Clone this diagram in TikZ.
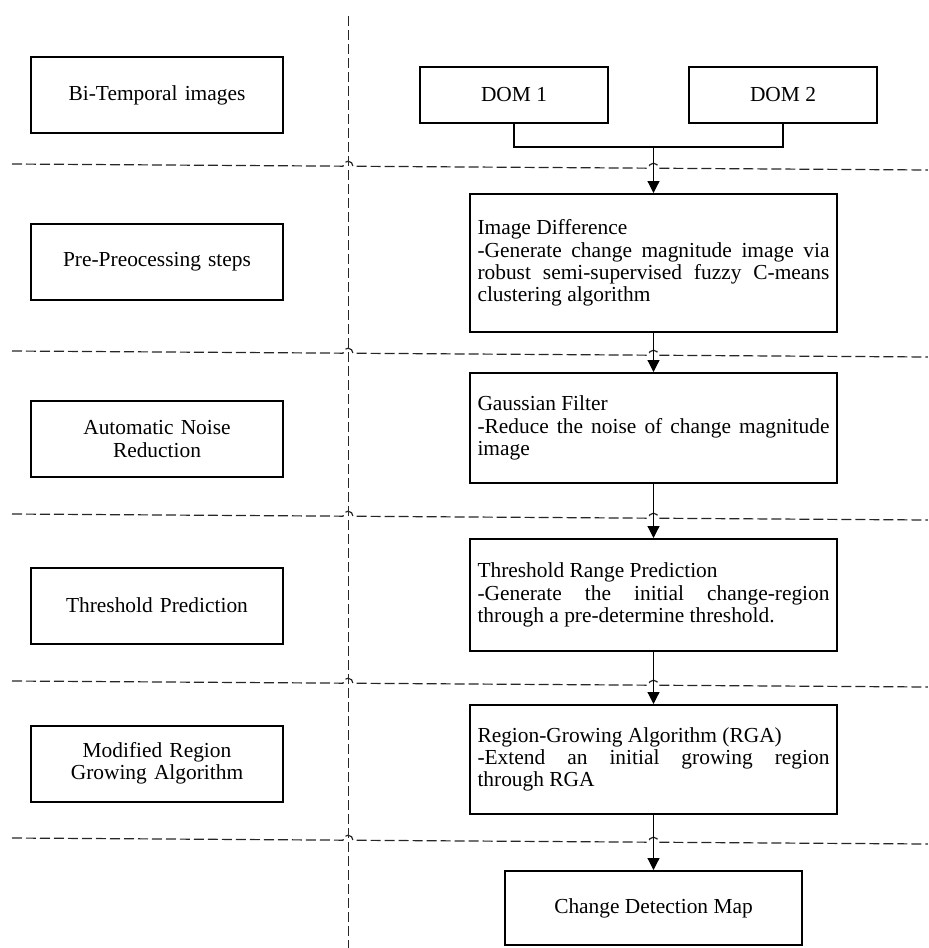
\documentclass[tikz,border=0pt]{standalone}
\usepackage{fontspec}
\setmainfont{Liberation Serif}
\usepackage{tikz}
\usetikzlibrary{arrows.meta}

\begin{document}
\begin{tikzpicture}[x=0.5pt, y=-0.5pt,
			font=\fontsize{10.7}{11.1}\selectfont,
			leftnode/.style={draw, text width=116pt, align=center, minimum width=126pt, minimum height=38pt, line width = 1pt},
			domnode/.style={draw, align=center, minimum width=94pt, minimum height=28pt, line width = 1pt},
			stepnode/.style={draw, anchor=north, text width=176pt, align=justify, inner xsep=3.75pt, inner ysep=0pt, line width = 1pt},
			sepline/.style={dash pattern=on 5pt off 2pt, line width = 0.6pt, black!85},
			link/.style={line width = 0.6pt},
			arrow/.style={line width = 0.6pt, -{Triangle[width=6pt, length=6pt]}}
		]
		\useasboundingbox (0,0) rectangle (928,948);

		% left column
		\node[leftnode] (bitemp) at (157,95) {Bi-Temporal images};
		\node[leftnode] (prep) at (157,261.5) {Pre-Preocessing steps};
		\node[leftnode] (noise) at (157,439) {Automatic Noise\\Reduction};
		\node[leftnode] (thpred) at (157,605.5) {Threshold Prediction};
		\node[leftnode] (mrga) at (157,763.5) {Modified Region\\Growing Algorithm};

		% right column
		\node[domnode] (dom1) at (514,95) {DOM 1};
		\node[domnode] (dom2) at (783,95) {DOM 2};
		\coordinate (join) at (653.5,147);

		\node[stepnode, minimum height=69pt] (imgdiff) at (653.5,193) {Image Difference\\-Generate change magnitude image via\linebreak robust semi-supervised fuzzy C-means\linebreak clustering algorithm};
		\node[stepnode, minimum height=55pt] (gauss) at (653.5,372) {Gaussian Filter\\-Reduce the noise of change magnitude\linebreak image};
		\node[stepnode, minimum height=56pt] (thresh) at (653.5,538) {Threshold Range Prediction\\-Generate the initial change-region\linebreak through a pre-determine threshold.};
		\node[stepnode, minimum height=54.5pt] (rga) at (653.5,704) {Region-Growing Algorithm (RGA)\\-Extend an initial growing region\linebreak through RGA};
		\node[domnode, minimum width=148.5pt, minimum height=37pt] (cdm) at (653.5,908) {Change Detection Map};

		% dashed separators
		\draw[sepline, line width = 0.45pt] (348.5,16) -- (348.5,948);

		\begin{scope}[rotate around={-0.375:(12,164)}]
			\draw[sepline] (12,164) -- (343,164) arc[start angle=180, end angle=0, radius=2.5pt] -- (648.5,164) arc[start angle=180, end angle=0, radius=2.5pt] -- (928,164);
		\end{scope}
		\begin{scope}[rotate around={-0.375:(12,351)}]
			\draw[sepline] (12,351) -- (343,351) arc[start angle=180, end angle=0, radius=2.5pt] -- (648.5,351) arc[start angle=180, end angle=0, radius=2.5pt] -- (928,351);
		\end{scope}
		\begin{scope}[rotate around={-0.375:(12,514)}]
			\draw[sepline] (12,514) -- (343,514) arc[start angle=180, end angle=0, radius=2.5pt] -- (648.5,514) arc[start angle=180, end angle=0, radius=2.5pt] -- (928,514);
		\end{scope}
		\begin{scope}[rotate around={-0.375:(12,681)}]
			\draw[sepline] (12,681) -- (343,681) arc[start angle=180, end angle=0, radius=2.5pt] -- (648.5,681) arc[start angle=180, end angle=0, radius=2.5pt] -- (928,681);
		\end{scope}
		\begin{scope}[rotate around={-0.375:(12,838)}]
			\draw[sepline] (12,838) -- (343,838) arc[start angle=180, end angle=0, radius=2.5pt] -- (648.5,838) arc[start angle=180, end angle=0, radius=2.5pt] -- (928,838);
		\end{scope}

		% connectors
		\draw[link] (dom1.south) |- (join) -| (dom2.south);
		\draw[arrow] (join) -- (imgdiff.north);
		\draw[arrow] (imgdiff.south) -- (gauss.north);
		\draw[arrow] (gauss.south) -- (thresh.north);
		\draw[arrow] (thresh.south) -- (rga.north);
		\draw[arrow] (rga.south) -- (cdm.north);
	\end{tikzpicture}
\end{document}
